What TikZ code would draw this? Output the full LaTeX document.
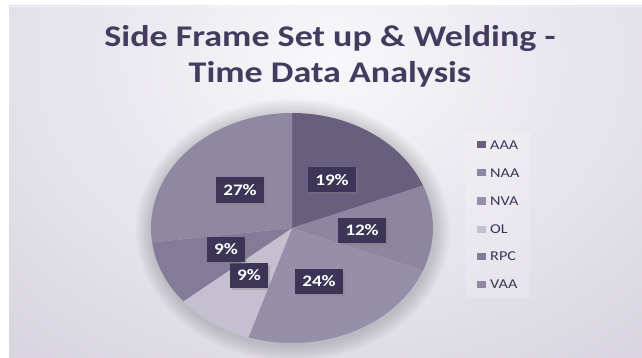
\documentclass[tikz,border=0pt]{standalone}
\usepackage{graphicx}
\usepackage{fontspec}
\setmainfont{Carlito}
\usetikzlibrary{shadows}
\definecolor{bgdark}{HTML}{C9C5D4}
\definecolor{bglight}{HTML}{F8F7FA}
\definecolor{cAAA}{HTML}{675F7D}
\definecolor{cNAA}{HTML}{8D86A0}
\definecolor{cNVA}{HTML}{958FA9}
\definecolor{cOL}{HTML}{C4C0CF}
\definecolor{cRPC}{HTML}{837B98}
\definecolor{cVAA}{HTML}{8F88A2}
\definecolor{lblfill}{HTML}{3C3556}
\definecolor{titlec}{HTML}{443C5E}
\newcommand\wide[1]{\scalebox{1.2}[1]{#1}}
\begin{document}
\begin{tikzpicture}[x=1pt,y=-1pt,
  ttl/.style={text=titlec, font=\fontsize{30}{36}\selectfont\bfseries, inner sep=0pt, anchor=base},
  pct/.style={fill=lblfill, text=white, font=\fontsize{16}{18}\selectfont\bfseries,
     inner xsep=7pt, inner ysep=0pt, minimum height=25pt,
     drop shadow={shadow xshift=2pt, shadow yshift=-2pt, opacity=0.35}},
  legsq/.style={minimum width=9pt, minimum height=7pt, inner sep=0pt},
  legtx/.style={text=lblfill, font=\fontsize{13.5}{15}\selectfont, inner sep=0pt, anchor=base west}]
\useasboundingbox (0,0) rectangle (642,358);
\fill[white] (0,0) rectangle (642,358);
\begin{scope}
  \clip (9,6) rectangle (642,358);
  \fill[bgdark] (9,6) rectangle (642,358);
  \shade[inner color=bglight, outer color=bgdark] (330,60) ellipse (720 and 560);
  % soft shadow around the pie
  \foreach \r in {16,14,...,2}{
    \fill[black, opacity=0.018] (293,230) ellipse ({141+\r} and {115+\r});
  }
\end{scope}
\draw[white!80!bgdark, line width=1pt] (9,6.5) -- (642,6.5);
% title
\node[ttl] (t1) at (330,47) {\wide{Side Frame Set up \& Welding -}};
\node[ttl] (t2) at (330,83) {\wide{Time Data Analysis}};
% pie
\begin{scope}[shift={(292,228)}, x=141pt, y=115pt]
  \fill[cAAA] (0,0) -- (90:1) arc[start angle=90, end angle=21.6, radius=1] -- cycle;
  \fill[cNAA] (0,0) -- (21.6:1) arc[start angle=21.6, end angle=-21.6, radius=1] -- cycle;
  \fill[cNVA] (0,0) -- (-21.6:1) arc[start angle=-21.6, end angle=-108, radius=1] -- cycle;
  \fill[cOL] (0,0) -- (-108:1) arc[start angle=-108, end angle=-140.4, radius=1] -- cycle;
  \fill[cRPC] (0,0) -- (-140.4:1) arc[start angle=-140.4, end angle=-172.8, radius=1] -- cycle;
  \fill[cVAA] (0,0) -- (-172.8:1) arc[start angle=-172.8, end angle=-270, radius=1] -- cycle;
\end{scope}
% percentage labels
\node[pct] (l19) at (332,180) {\wide{19\%}};
\node[pct] (l12) at (362,230) {\wide{12\%}};
\node[pct] (l24) at (319,281) {\wide{24\%}};
\node[pct] (l9a) at (249,275) {\wide{9\%}};
\node[pct] (l9b) at (226,249) {\wide{9\%}};
\node[pct] (l27) at (240,190) {\wide{27\%}};
% legend
\fill[white, opacity=0.18] (465,132) rectangle (530,298);
\foreach \n/\c/\y in {aaa/cAAA/145, naa/cNAA/173, nva/cNVA/201, ol/cOL/229, rpc/cRPC/256, vaa/cVAA/284}{
  \node[legsq, fill=\c] (sq\n) at (481,\y) {};
}
\node[legtx] (taaa) at (490,149.5) {\wide{AAA}};
\node[legtx] (tnaa) at (490,177.5) {\wide{NAA}};
\node[legtx] (tnva) at (490,205.5) {\wide{NVA}};
\node[legtx] (tol) at (490,233.5) {\wide{OL}};
\node[legtx] (trpc) at (490,260.5) {\wide{RPC}};
\node[legtx] (tvaa) at (490,288.5) {\wide{VAA}};
\end{tikzpicture}
\end{document}
